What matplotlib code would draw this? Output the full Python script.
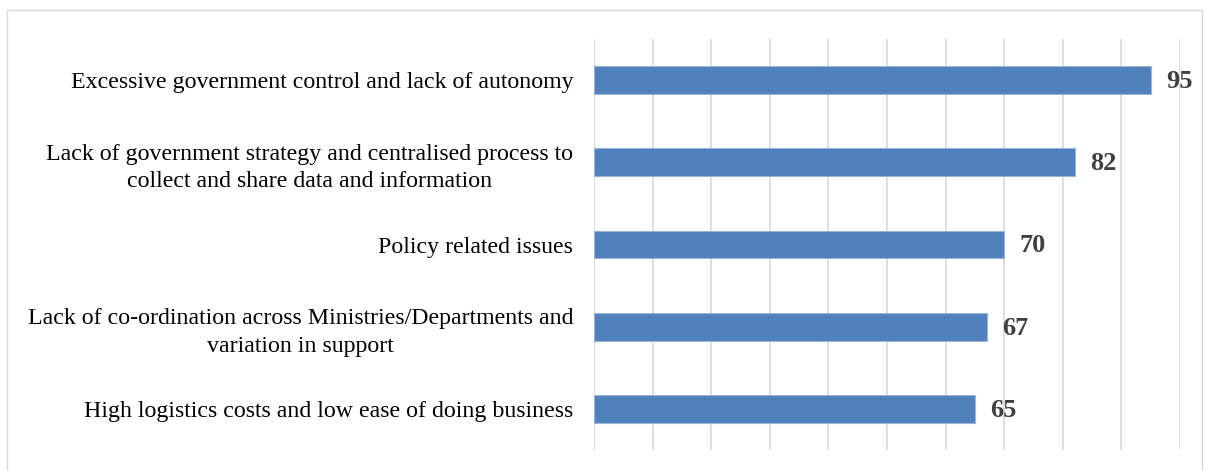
import matplotlib.pyplot as plt
from matplotlib.patches import Rectangle

categories = [
    "Excessive government control and lack of autonomy",
    "Lack of government strategy and centralised process to\ncollect and share data and information",
    "Policy related issues",
    "Lack of co-ordination across Ministries/Departments and\nvariation in support",
    "High logistics costs and low ease of doing business",
]
values = [95, 82, 70, 67, 65]

plt.rcParams['font.family'] = ['Liberation Serif', 'DejaVu Serif']

fig = plt.figure(figsize=(12.05, 4.71), dpi=100)
ax = fig.add_axes([594 / 1205, 1 - 450 / 471, (1180 - 594) / 1205, (450 - 39) / 471])

# light frame round the chart area
fig.patches.append(Rectangle((7 / 1205, -0.01), 1195 / 1205, 1 - 10 / 471 + 0.01,
                             transform=fig.transFigure, fill=False,
                             edgecolor='#d9d9d9', linewidth=1))

y = list(range(len(categories)))
bars = ax.barh(y, values, height=0.34, color='#4f81bd', edgecolor='#9bb5d9',
               linewidth=0.8, zorder=3)

ax.set_xlim(0, 100)
ax.set_ylim(len(categories) - 0.5, -0.5)
ax.set_xticks(range(0, 101, 10))
ax.xaxis.grid(True, color='#d9d9d9', linewidth=1.2, zorder=0)
ax.tick_params(axis='x', length=0, labelbottom=False)
ax.tick_params(axis='y', length=0, pad=15)
ax.set_yticks(y)
ax.set_yticklabels(categories, fontsize=17.2, color='#000000',
                   multialignment='center', linespacing=1.4)
for s in ax.spines.values():
    s.set_visible(False)

for rect, v in zip(bars, values):
    ax.annotate(str(v), xy=(rect.get_width(), rect.get_y() + rect.get_height() / 2),
                xytext=(11, -1), textcoords='offset points', ha='left', va='center',
                fontsize=19, fontweight='bold', color='#404040')

fig.savefig('out.png', dpi=100)
